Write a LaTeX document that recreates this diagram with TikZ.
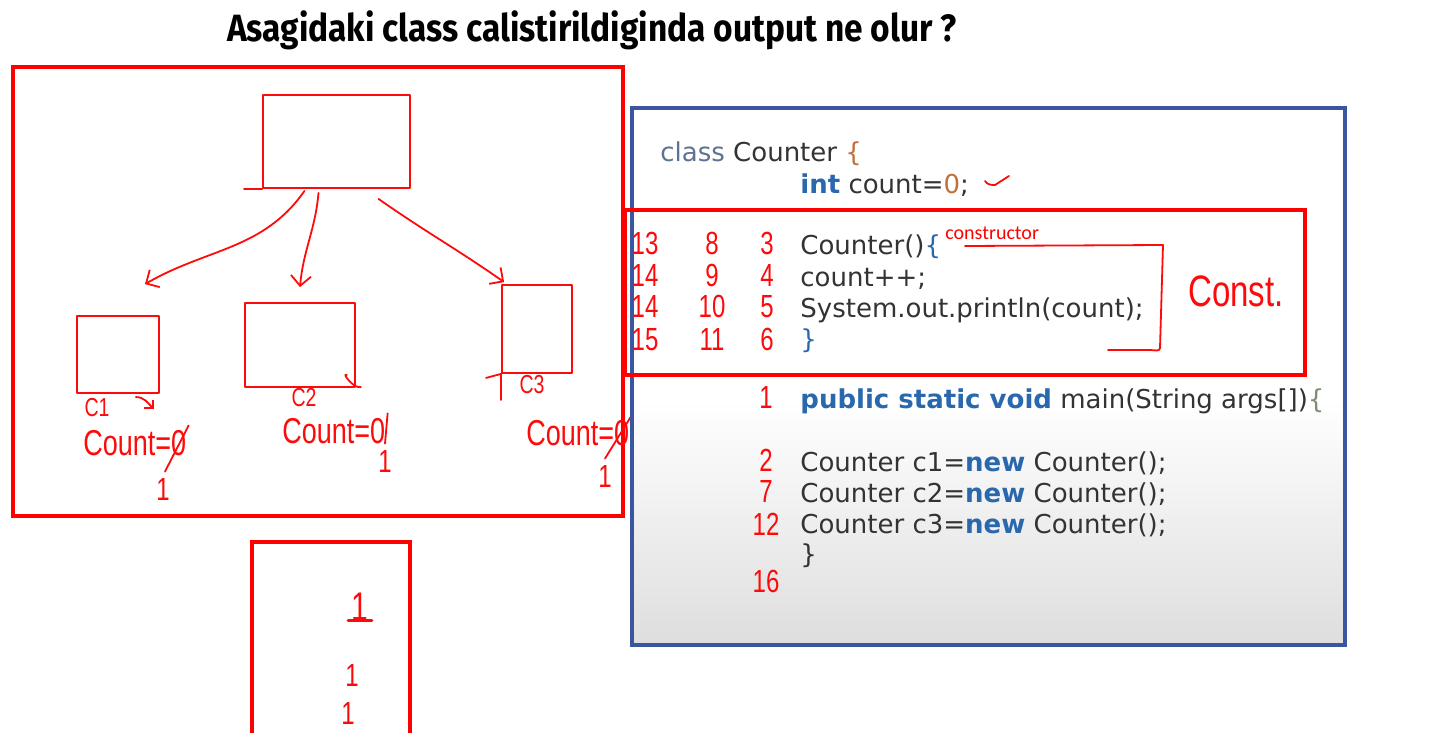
\documentclass[tikz,border=0pt]{standalone}
\usepackage{fontspec}
\setmainfont{DejaVu Sans}
\newfontfamily\titlefont[FakeStretch=0.88]{Fira Sans}
\newfontfamily\handfont[FakeStretch=0.75]{Liberation Sans}
\newfontfamily\notefont{Carlito}
\usepackage{xcolor}
\usetikzlibrary{arrows.meta}
\definecolor{frameblue}{HTML}{3A56A0}
\definecolor{kwblue}{HTML}{2A68AE}
\definecolor{codegray}{HTML}{333333}
\definecolor{classgray}{HTML}{5E7390}
\definecolor{bracebrown}{HTML}{C0703A}
\definecolor{bracegreen}{HTML}{7E8C72}
\definecolor{penred}{HTML}{FF0A0A}

\begin{document}
\begin{tikzpicture}[
    x=0.5pt, y=-0.5pt,
    redbox/.style={draw=red, line width=1.6pt},
    pen/.style={draw=penred, line width=0.9pt, line cap=round, line join=round},
    penarrow/.style={pen, -{Straight Barb[length=5pt,width=10pt]}},
    objbox/.style={pen, inner sep=0pt},
    code/.style={anchor=base west, inner sep=0pt, text=codegray, font=\fontsize{13}{15}\selectfont},
    hand/.style={anchor=base, inner sep=0pt, text=penred, font=\handfont\fontsize{16}{18}\selectfont},
    small hand/.style={hand, font=\handfont\fontsize{13}{15}\selectfont},
    count hand/.style={hand, anchor=base west, font=\handfont\fontsize{18}{20}\selectfont}
]
\useasboundingbox (0,0) rectangle (1436,733);

% title
\node[anchor=base, inner sep=0pt, font=\titlefont\bfseries\fontsize{19}{22}\selectfont] (title) at (592,42)
    {Asagidaki class calistirildiginda output ne olur ?};

% ---- left: objects in memory
\draw[redbox] (13,67) rectangle (623,516);

\node[objbox, minimum width=73.5pt, minimum height=46.5pt] (cls) at (336.5,141.5) {};
\draw[pen] (cls.south west) -- ++(-18,0);
\node[objbox, minimum width=41pt, minimum height=38.5pt] (obj1) at (118,354.5) {};
\node[objbox, minimum width=55pt, minimum height=42pt] (obj2) at (300,345) {};
\node[objbox, minimum width=35pt, minimum height=44pt] (obj3) at (537,329) {};
\draw[pen] (obj3.south west) -- ++(-15,4);
\draw[pen] (obj3.south west) -- ++(0,26);

\draw[penarrow] (cls.south) ++(-32,2) to[out=-125,in=30] ([shift={(27,-31)}]obj1.north);
\draw[penarrow] (cls.south) ++(-18,4) to[out=-95,in=85] ([shift={(0,-15)}]obj2.north);
\draw[penarrow] (cls.south) ++(42,10) to[out=-35,in=145] ([shift={(3,-2)}]obj3.north west);

\node[small hand] (lc1) at (97,416) {C1};
\node[small hand] (lc2) at (304,406) {C2};
\node[small hand] (lc3) at (532,393) {C3};
\draw[pen, -{Straight Barb[length=3pt,width=6pt]}] ([shift={(26,-10)}]lc1.east) to[out=0,in=135] ++(18,12);
\draw[pen] ([shift={(30,-22)}]lc2.east) to[out=150,in=200] ++(14,12);

\node[count hand] (cnt1) at (83,455) {Count=0};
\node[count hand] (cnt2) at (282,443) {Count=0};
\node[count hand] (cnt3) at (526,445) {Count=0};
\node[hand] (one1) at (163,500) {1};
\node[hand] (one2) at (385,472) {1};
\node[hand] (one3) at (605,487) {1};
\draw[pen] ([shift={(2,-4)}]cnt1.north east) -- ([shift={(2,-6)}]one1.north);
\draw[pen] ([shift={(2,-4)}]cnt2.north east) -- ([shift={(0,-6)}]one2.north);
\draw[pen] ([shift={(2,-4)}]cnt3.north east) -- ([shift={(0,-6)}]one3.north);

% ---- bottom: output
\draw[redbox] (252,542) rectangle (410,760);
\node[hand, font=\handfont\fontsize{20}{22}\selectfont] (out1) at (360,620) {1};
\draw[pen, line width=1.3pt] ([xshift=-6pt]out1.south) -- ([xshift=6pt]out1.south);
\node[hand] (out2) at (352,686) {1};
\node[hand] (out3) at (348,724) {1};

% ---- right: the code
\fill[white] (632,108) rectangle (1345,645);
\shade[top color=white, bottom color=black!13] (632,400) rectangle (1345,645);
\draw[frameblue, line width=1.6pt] (632,108) rectangle (1345,645);

\node[code] (clsline) at (660,162) {\textcolor{classgray}{class} Counter \textcolor{bracebrown}{\{}};
\node[code] (field) at (800,193) {\textcolor{kwblue}{\bfseries int} count=\textcolor{bracebrown}{0};};
\draw[pen] (985,181) to[out=-60,in=180] (995,185) -- (1009,176);

\draw[redbox] (625,210) rectangle (1305,375);
\node[code] (ctor) at (800,255) {Counter()\textcolor{kwblue}{\{}};
\node[code] (incr) at (800,286) {count++;};
\node[code] (prnt) at (800,317) {System.out.println(count);};
\node[code] (ctorend) at (800,348) {\textcolor{kwblue}{\}}};
\node[anchor=base west, inner sep=0pt, text=red, font=\notefont\fontsize{10}{12}\selectfont] (note) at (945,240) {constructor};
\draw[pen] (965,246) -- (1163,245) -- (1160,348) to[out=-90,in=0] (1150,350) -- (1108,350);
\node[hand, font=\handfont\fontsize{22}{24}\selectfont] (const) at (1236,306) {Const.};

\foreach \y/\a/\b/\c in {255/13/8/3, 286/14/9/4, 317/14/10/5, 350/15/11/6} {
    \node[hand] (na\y) at (645,\y) {\a};
    \node[hand] (nb\y) at (712,\y) {\b};
    \node[hand] (nc\y) at (767,\y) {\c};
}

\node[code] (mainsig) at (800,408) {\textcolor{kwblue}{\bfseries public static void} main(String args[])\textcolor{bracegreen}{\{}};
\node[code] (new1) at (800,471) {Counter c1=\textcolor{kwblue}{\bfseries new} Counter();};
\node[code] (new2) at (800,502) {Counter c2=\textcolor{kwblue}{\bfseries new} Counter();};
\node[code] (new3) at (800,533) {Counter c3=\textcolor{kwblue}{\bfseries new} Counter();};
\node[code] (mainend) at (800,563) {\}};

\foreach \y/\s in {408/1, 471/2, 502/7, 535/12, 592/16} {
    \node[hand] (m\y) at (766,\y) {\s};
}

\end{tikzpicture}
\end{document}
